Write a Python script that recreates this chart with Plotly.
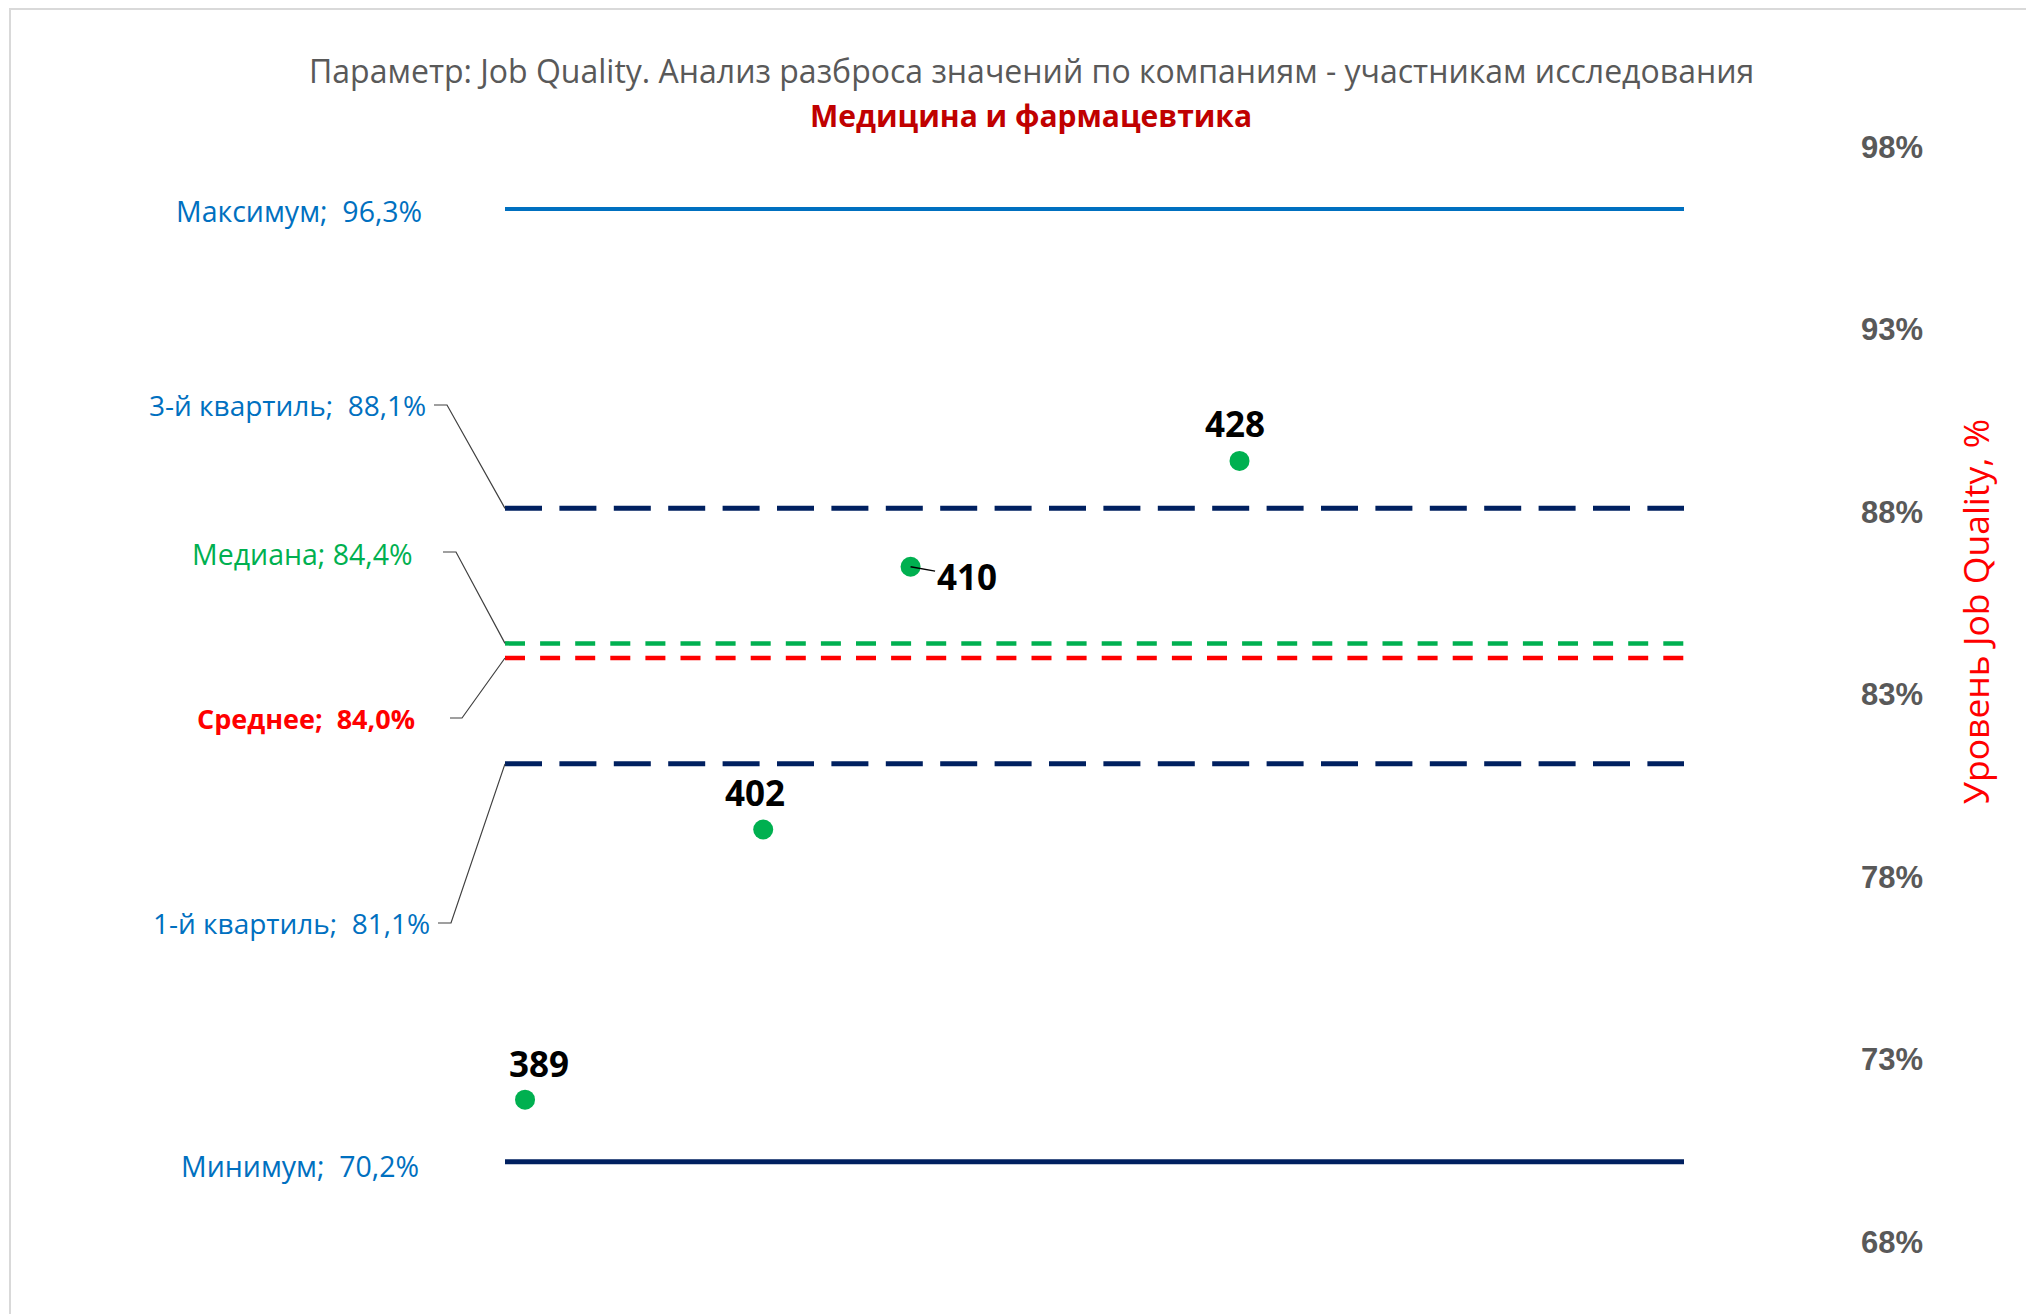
import plotly.graph_objects as go

# ---- data -------------------------------------------------------------
company_ids = ["389", "402", "410", "428"]
company_x = [1.7, 21.9, 34.4, 62.3]          # position of each company along the band
company_scores = [71.9, 79.3, 86.5, 89.4]    # Job Quality, %

stat_names = ["Максимум", "3-й квартиль", "Медиана", "Среднее", "1-й квартиль", "Минимум"]
stat_values = [96.3, 88.1, 84.4, 84.0, 81.1, 70.2]

y_ticks = [68, 73, 78, 83, 88, 93, 98]
y_tick_labels = [f"{v}%" for v in y_ticks]
band_x = [0, 100]

# ---- page geometry (pixels) -------------------------------------------
W, H = 2026, 1314
L, R, T, B = 505, 1684, 147, 1242
Y_MIN, Y_MAX = 68, 98


def fx(px):
    return (px - L) / (R - L)


def fy(py):
    return (B - py) / (B - T)


def yfrac(v):
    return (v - Y_MIN) / (Y_MAX - Y_MIN)


def pct(v):
    return f"{v:.1f}%".replace(".", ",")


FONT = "Open Sans"
BLUE = "#0070C0"
NAVY = "#002060"
GREEN = "#00B050"
RED = "#FF0000"

LONG_DASH = "37px,17.4px"
SHORT_DASH = "20px,15.1px"

# line style, label colour/weight, label anchor (right edge x, centre y),
# leader elbow points (None = no leader)
stat_styles = {
    "Максимум": dict(color=BLUE, dash="solid", width=4, lcolor=BLUE, bold=False, size=28.5,
                     sep="\u00a0 ", pos=(424, 211), leader=None),
    "3-й квартиль": dict(color=NAVY, dash=LONG_DASH, width=5, lcolor=BLUE, bold=False, size=28,
                         sep="\u00a0 ", pos=(428, 405), leader=(434, 447, 405)),
    "Медиана": dict(color=GREEN, dash=SHORT_DASH, width=4.5, lcolor=GREEN, bold=False, size=28.5,
                    sep=" ", pos=(415, 554), leader=(443, 456, 552)),
    "Среднее": dict(color=RED, dash=SHORT_DASH, width=4.5, lcolor=RED, bold=True, size=27,
                    sep="\u00a0 ", pos=(417, 719), leader=(450, 462, 718)),
    "1-й квартиль": dict(color=NAVY, dash=LONG_DASH, width=5, lcolor=BLUE, bold=False, size=28,
                         sep="\u00a0 ", pos=(432, 923), leader=(438, 451, 923)),
    "Минимум": dict(color=NAVY, dash="solid", width=5, lcolor=BLUE, bold=False, size=28.5,
                    sep="\u00a0 ", pos=(421, 1166), leader=None),
}

# label offsets for the company markers (pixels)
point_label_offsets = {
    "389": dict(xshift=14, yshift=36, arrow=False),
    "402": dict(xshift=-8, yshift=37, arrow=False),
    "410": dict(ax=56, ay=10, arrow=True),
    "428": dict(xshift=-5, yshift=37, arrow=False),
}

fig = go.Figure()

# statistic bands
for name, val in zip(stat_names, stat_values):
    st = stat_styles[name]
    fig.add_trace(go.Scatter(
        x=band_x, y=[val, val], mode="lines",
        line=dict(color=st["color"], width=st["width"], dash=st["dash"]),
        hoverinfo="skip", showlegend=False,
    ))

# companies
fig.add_trace(go.Scatter(
    x=company_x, y=company_scores, mode="markers",
    marker=dict(color=GREEN, size=20),
    showlegend=False, hovertext=company_ids,
))

annotations = []
shapes = []

# statistic labels with leader lines
for name, val in zip(stat_names, stat_values):
    st = stat_styles[name]
    text = f"{name};{st['sep']}{pct(val)}"
    if st["bold"]:
        text = f"<b>{text}</b>"
    px, py = st["pos"]
    annotations.append(dict(
        text=text, xref="paper", yref="paper", x=fx(px), y=fy(py),
        xanchor="right", yanchor="middle", showarrow=False,
        font=dict(family=FONT, size=st["size"], color=st["lcolor"]),
    ))
    if st["leader"]:
        x0, x1, ly = st["leader"]
        path = (f"M {fx(x0)} {fy(ly)} L {fx(x1)} {fy(ly)} "
                f"L 0 {yfrac(val)}")
        shapes.append(dict(type="path", xref="paper", yref="paper", path=path,
                           line=dict(color="#404040", width=1.2)))

# company labels
for cid, xv, yv in zip(company_ids, company_x, company_scores):
    off = point_label_offsets[cid]
    ann = dict(text=f"<b>{cid}</b>", x=xv, y=yv, xref="x", yref="y",
               font=dict(family=FONT, size=35, color="#000000"))
    if off["arrow"]:
        ann.update(showarrow=True, arrowhead=0, arrowwidth=1.5, arrowcolor="#000000",
                   ax=off["ax"], ay=off["ay"], axref="pixel", ayref="pixel",
                   xanchor="center", yanchor="middle", standoff=0)
    else:
        ann.update(showarrow=False, xshift=off["xshift"], yshift=off["yshift"],
                   xanchor="center", yanchor="middle")
    annotations.append(ann)

# headings
annotations.append(dict(
    text="Параметр: Job Quality. Анализ разброса значений по компаниям - участникам исследования",
    xref="paper", yref="paper", x=fx(1031), y=fy(71), xanchor="center", yanchor="middle",
    showarrow=False, font=dict(family=FONT, size=32, color="#595959"),
))
annotations.append(dict(
    text="<b>Медицина и фармацевтика</b>",
    xref="paper", yref="paper", x=fx(1031), y=fy(115), xanchor="center", yanchor="middle",
    showarrow=False, font=dict(family=FONT, size=30, color="#C00000"),
))

# right axis title
annotations.append(dict(
    text="Уровень Job Quality, %", textangle=-90,
    xref="paper", yref="paper", x=fx(1975), y=fy(612), xanchor="center", yanchor="middle",
    showarrow=False, font=dict(family=FONT, size=35.5, color=RED),
))

# chart frame
shapes.append(dict(type="rect", xref="paper", yref="paper",
                   x0=fx(10), x1=fx(W + 20), y0=fy(9), y1=fy(H + 20),
                   line=dict(color="#D9D9D9", width=2), layer="below"))

fig.update_layout(
    width=W, height=H,
    margin=dict(l=L, r=W - R, t=T, b=H - B),
    paper_bgcolor="white", plot_bgcolor="white",
    showlegend=False,
    annotations=annotations, shapes=shapes,
    xaxis=dict(range=band_x, visible=False, fixedrange=True),
    yaxis=dict(range=[Y_MIN, Y_MAX], side="right", tickvals=y_ticks, ticktext=y_tick_labels,
               showgrid=False, zeroline=False, showline=False, ticks="",
               ticklabelstandoff=176,
               tickfont=dict(family="Liberation Sans", size=31, color="#595959", weight="bold")),
)

fig.write_html("out.html")
